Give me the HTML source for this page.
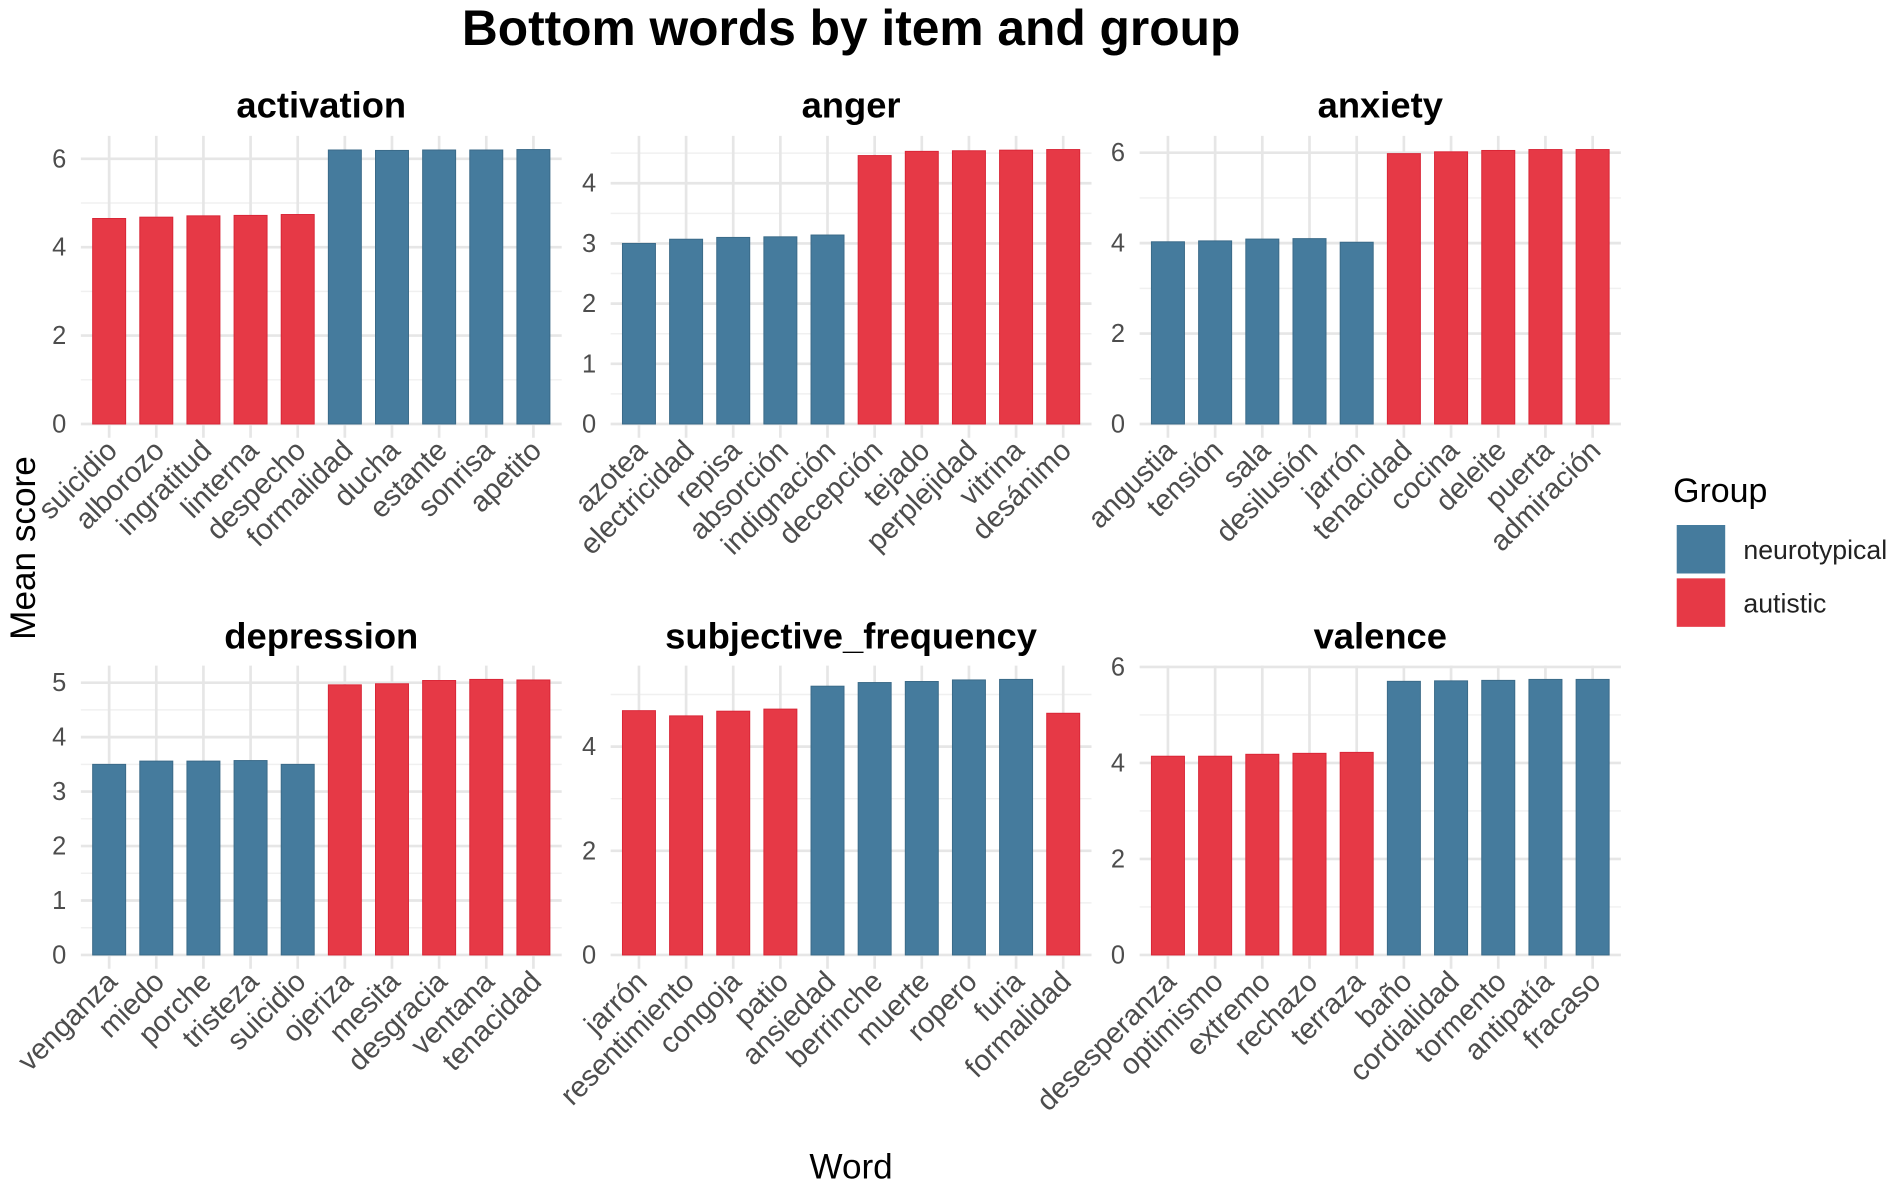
<!DOCTYPE html>
<html><head><meta charset="utf-8"><style>
html,body{margin:0;padding:0;background:#fff;}
svg{display:block;font-family:"Liberation Sans",sans-serif;}
</style></head><body>
<svg id="chart" width="1901" height="1187" viewBox="0 0 1568 979" xmlns="http://www.w3.org/2000/svg">
<text x="702" y="37" text-anchor="middle" font-size="41" font-weight="bold" fill="#000">Bottom words by item and group</text>
<text transform="translate(29,452) rotate(-90)" text-anchor="middle" font-size="29" fill="#000">Mean score</text>
<text x="702" y="972" text-anchor="middle" font-size="29" fill="#000">Word</text>
<g>
<text x="1380" y="414" font-size="28" fill="#000">Group</text>
<rect x="1383" y="433" width="40" height="40" fill="#457b9d"/>
<text x="1438" y="461" font-size="22" fill="#222">neurotypical</text>
<rect x="1383" y="477" width="40" height="40" fill="#e63946"/>
<text x="1438" y="505" font-size="22" fill="#222">autistic</text>
</g>
<g id="panels"></g>
</svg>
<script>
const panelNames = ["activation","anger","anxiety","depression","subjective_frequency","valence"];
const wordsActivation = ["suicidio","alborozo","ingratitud","linterna","despecho","formalidad","ducha","estante","sonrisa","apetito"];
const valuesActivation = [4.65,4.68,4.71,4.72,4.74,6.20,6.19,6.20,6.20,6.21];
const groupsActivation = ["a","a","a","a","a","n","n","n","n","n"];
const wordsAnger = ["azotea","electricidad","repisa","absorción","indignación","decepción","tejado","perplejidad","vitrina","desánimo"];
const valuesAnger = [3.00,3.07,3.10,3.11,3.14,4.46,4.53,4.54,4.55,4.56];
const groupsAnger = ["n","n","n","n","n","a","a","a","a","a"];
const wordsAnxiety = ["angustia","tensión","sala","desilusión","jarrón","tenacidad","cocina","deleite","puerta","admiración"];
const valuesAnxiety = [4.03,4.05,4.09,4.10,4.02,5.98,6.02,6.05,6.07,6.07];
const groupsAnxiety = ["n","n","n","n","n","a","a","a","a","a"];
const wordsDepression = ["venganza","miedo","porche","tristeza","suicidio","ojeriza","mesita","desgracia","ventana","tenacidad"];
const valuesDepression = [3.50,3.56,3.56,3.57,3.50,4.96,4.98,5.04,5.06,5.05];
const groupsDepression = ["n","n","n","n","n","a","a","a","a","a"];
const wordsFrequency = ["jarrón","resentimiento","congoja","patio","ansiedad","berrinche","muerte","ropero","furia","formalidad"];
const valuesFrequency = [4.69,4.59,4.68,4.72,5.16,5.23,5.25,5.28,5.29,4.64];
const groupsFrequency = ["a","a","a","a","n","n","n","n","n","a"];
const wordsValence = ["desesperanza","optimismo","extremo","rechazo","terraza","baño","cordialidad","tormento","antipatía","fracaso"];
const valuesValence = [4.14,4.14,4.18,4.20,4.22,5.70,5.71,5.72,5.74,5.74];
const groupsValence = ["a","a","a","a","a","n","n","n","n","n"];
const tickSteps = [2,1,2,1,2,2];

const allWords=[wordsActivation,wordsAnger,wordsAnxiety,wordsDepression,wordsFrequency,wordsValence];
const allValues=[valuesActivation,valuesAnger,valuesAnxiety,valuesDepression,valuesFrequency,valuesValence];
const allGroups=[groupsActivation,groupsAnger,groupsAnxiety,groupsDepression,groupsFrequency,groupsValence];
const NS="http://www.w3.org/2000/svg";
const root=document.getElementById('panels');
function mk(tag,attrs,parent){const e=document.createElementNS(NS,tag);for(const k in attrs)e.setAttribute(k,attrs[k]);parent.appendChild(e);return e;}
const colX=[[66.7,463.3],[503.7,900.3],[940,1337]];
const rowY=[[112,361],[549,799]];
for(let p=0;p<6;p++){
  const c=p%3,r=Math.floor(p/3);
  const [x0,x1]=colX[c],[top,bot]=rowY[r];
  const words=allWords[p],vals=allValues[p],grps=allGroups[p];
  const n=words.length;
  const ymax=Math.max(...vals);
  const lo=-0.05*ymax,hi=1.05*ymax;
  const y=v=>bot-(v-lo)/(hi-lo)*(bot-top);
  const band=(x1-x0)/(n+0.2);
  const xc=i=>x0+band*(0.6+i);
  const g=mk('g',{},root);
  
  
  const st=tickSteps[p];
  for(let v=st/2;v<=hi;v+=st){const l=mk('line',{x1:x0,x2:x1,y1:y(v),y2:y(v),stroke:'#f0f0f0','stroke-width':1.2},g);}
  for(let v=0;v<=hi;v+=st){
    const l=mk('line',{x1:x0,x2:x1,y1:y(v),y2:y(v),stroke:'#e6e6e6','stroke-width':2.2},g);
    
    
    const t=mk('text',{x:x0-12,y:y(v)+7,'text-anchor':'end','font-size':21,fill:'#4d4d4d'},g);
    
    
    t.textContent=v;
  }
  for(let i=0;i<n;i++){const l=mk('line',{x1:xc(i),x2:xc(i),y1:top,y2:bot,stroke:'#e6e6e6','stroke-width':2.2},g);}
  const tt=mk('text',{x:(x0+x1)/2,y:r==0?97:535,'text-anchor':'middle','font-size':30,'font-weight':'bold',fill:'#000'},g);
  
  
  tt.textContent=panelNames[p];
  const bw=band*0.7;
  for(let i=0;i<n;i++){
    const col=grps[i]=='a'?'#e63946':'#457b9d';
    const b=mk('rect',{x:xc(i)-bw/2,y:y(vals[i]),width:bw,height:y(0)-y(vals[i]),fill:col,stroke:grps[i]=='a'?'#d92536':'#3a6a88','stroke-width':0.8},g);
    
    
    const t=mk('text',{transform:`translate(${xc(i)+8},${bot+12}) rotate(-45)`,'text-anchor':'end','font-size':24,fill:'#4d4d4d'},g);
    
    
    t.textContent=words[i];
  }
}
</script>
</body></html>
